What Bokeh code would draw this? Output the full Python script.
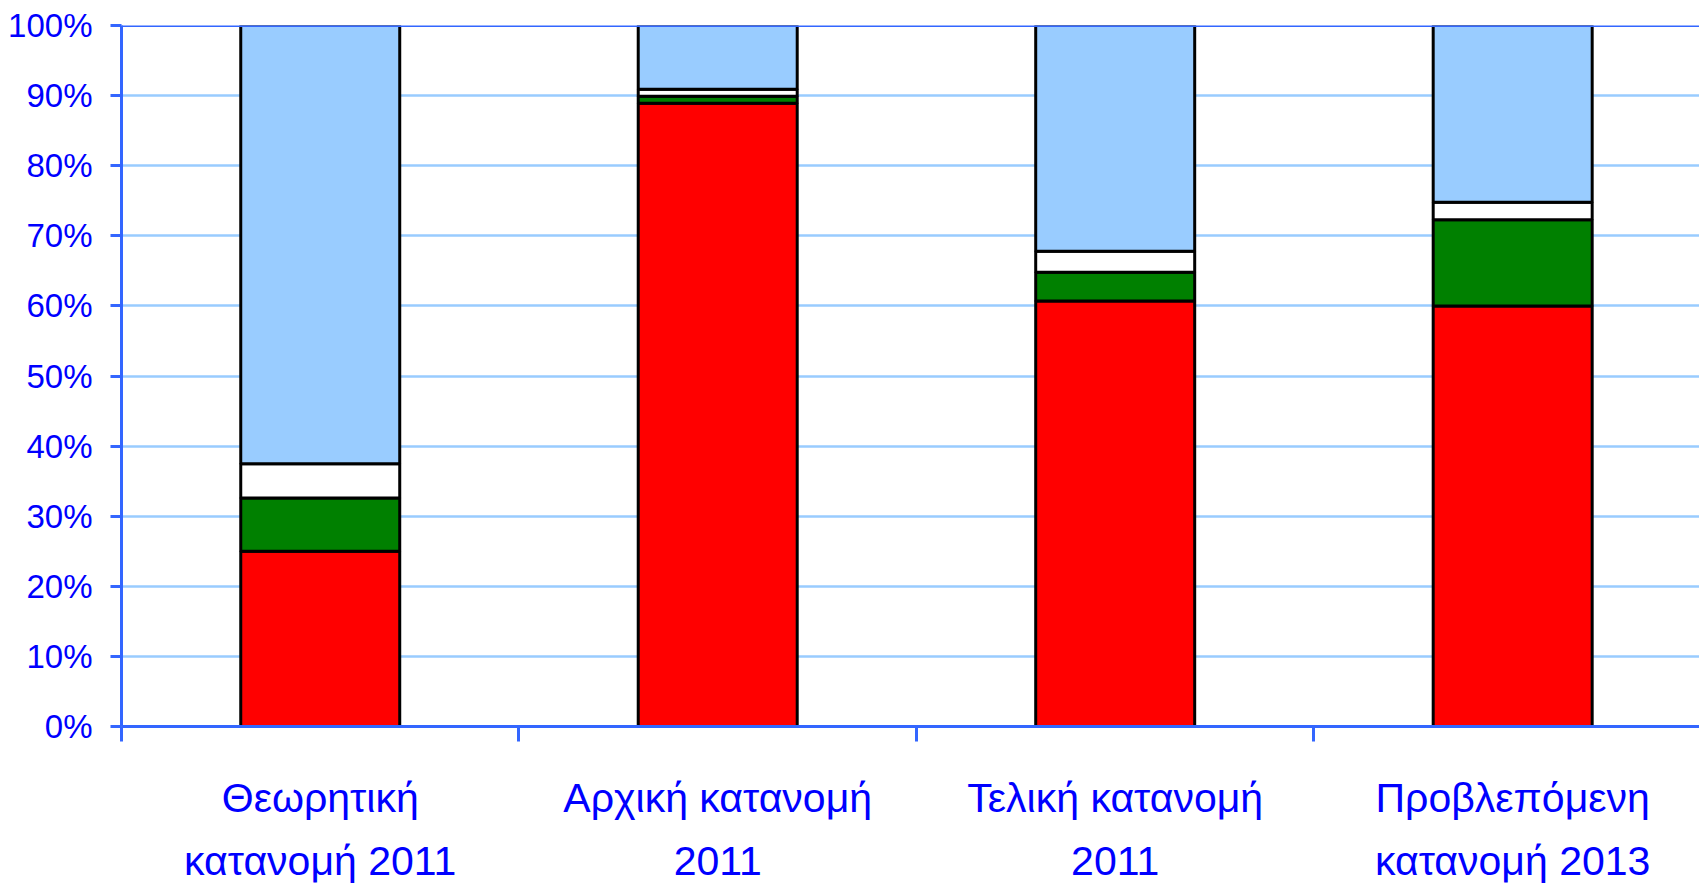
from bokeh.plotting import figure
from bokeh.models import ColumnDataSource, FixedTicker, PrintfTickFormatter, Range1d, Span
from bokeh.embed import file_html
from bokeh.resources import INLINE

categories = ["Θεωρητική\nκατανομή 2011", "Αρχική κατανομή\n2011", "Τελική κατανομή\n2011", "Προβλεπόμενη\nκατανομή 2013"]
red_vals = [25.0, 88.9, 60.7, 60.0]
green_vals = [7.6, 1.0, 4.1, 12.3]
white_vals = [4.9, 1.0, 3.0, 2.5]
blue_vals = [62.5, 9.1, 32.2, 25.2]
y_ticks = [0, 10, 20, 30, 40, 50, 60, 70, 80, 90, 100]

xs = list(range(len(categories)))
src = ColumnDataSource(dict(x=xs, red=red_vals, green=green_vals, white=white_vals, blue=blue_vals))

p = figure(width=1699, height=886, output_backend="svg", toolbar_location=None,
           x_range=Range1d(-0.5, 3.47), y_range=Range1d(0, 100),
           min_border_left=121, min_border_top=25, min_border_bottom=160, min_border_right=0)
p.outline_line_color = None
p.background_fill_color = "white"

p.vbar_stack(["red", "green", "white", "blue"], x="x", width=0.4, source=src,
             color=["#FF0000", "#008000", "#FFFFFF", "#99CCFF"],
             line_color="black", line_width=3)

p.add_layout(Span(location=100, dimension="width", line_color="#3366FF", line_width=3))

# y axis
ya = p.yaxis[0]
ya.ticker = FixedTicker(ticks=y_ticks)
ya.formatter = PrintfTickFormatter(format="%d%%")
ya.axis_line_color = "#3366FF"
ya.axis_line_width = 3
ya.major_tick_line_color = "#3366FF"
ya.major_tick_line_width = 3
ya.major_tick_out = 11
ya.major_tick_in = 0
ya.minor_tick_line_color = None
ya.major_label_standoff = 18
ya.major_label_text_font = "Liberation Sans"
ya.major_label_text_font_size = "33px"
ya.major_label_text_color = "#0000FF"

# x axis
xa = p.xaxis[0]
xa.ticker = FixedTicker(ticks=xs, minor_ticks=[-0.5, 0.5, 1.5, 2.5, 3.5])
xa.major_label_overrides = {i: c for i, c in enumerate(categories)}
xa.axis_line_color = "#3366FF"
xa.axis_line_width = 3
xa.major_tick_line_color = None
xa.major_tick_out = 0
xa.major_tick_in = 0
xa.minor_tick_line_color = "#3366FF"
xa.minor_tick_line_width = 3
xa.minor_tick_out = 15
xa.minor_tick_in = 0
xa.major_label_standoff = 33
xa.major_label_text_font = "Liberation Sans"
xa.major_label_text_font_size = "41px"
xa.major_label_text_color = "#0000FF"
xa.major_label_text_line_height = 1.37

p.xgrid.grid_line_color = None
p.ygrid.ticker = FixedTicker(ticks=y_ticks)
p.ygrid.grid_line_color = "#99CCFF"
p.ygrid.grid_line_width = 2.5

open("out.html", "w").write(file_html(p, INLINE))
